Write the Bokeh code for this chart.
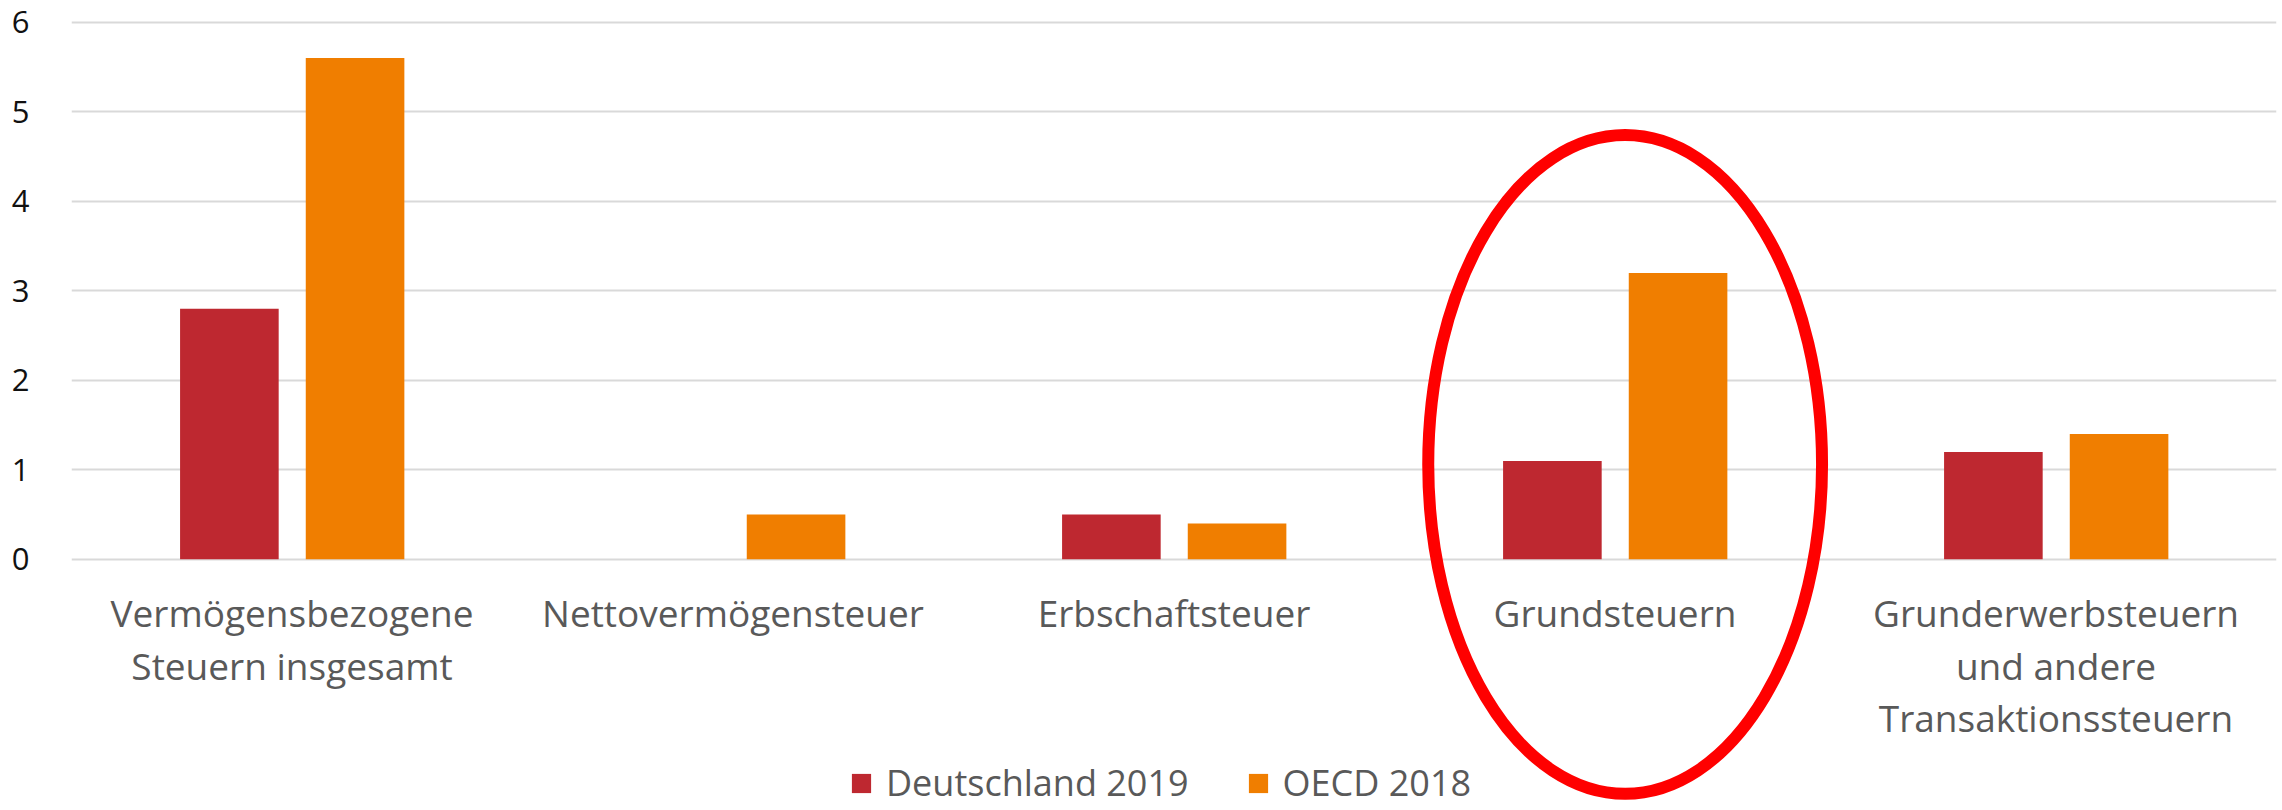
from bokeh.plotting import figure
from bokeh.models import FactorRange, Range1d, FixedTicker, ColumnDataSource
from bokeh.transform import dodge
from bokeh.core.properties import value
from bokeh.embed import file_html
from bokeh.resources import INLINE

# ---- data ----
categories = ["Vermögensbezogene Steuern insgesamt", "Nettovermögensteuer",
              "Erbschaftsteuer", "Grundsteuern",
              "Grunderwerbsteuern und andere Transaktionssteuern"]
cat_labels = ["Vermögensbezogene\nSteuern insgesamt", "Nettovermögensteuer",
              "Erbschaftsteuer", "Grundsteuern",
              "Grunderwerbsteuern\nund andere\nTransaktionssteuern"]
deutschland_2019 = [2.8, 0.0, 0.5, 1.1, 1.2]
oecd_2018 = [5.6, 0.5, 0.4, 3.2, 1.4]
y_ticks = [0, 1, 2, 3, 4, 5, 6]
series_names = ["Deutschland 2019", "OECD 2018"]
highlight_category = "Grundsteuern"

# ---- styles ----
RED = "#BE2830"
ORANGE = "#F07E00"
FONT = "Open Sans"

src = ColumnDataSource(dict(cat=categories, label=cat_labels,
                            de=deutschland_2019, oecd=oecd_2018,
                            zero=[0] * len(categories)))

p = figure(x_range=FactorRange(*categories, range_padding=0),
           y_range=Range1d(-2.806, 6.2436),
           width=2282, height=810, output_backend="svg", toolbar_location=None,
           x_axis_location=None, min_border_left=71, min_border_right=6,
           min_border_top=0, min_border_bottom=0, outline_line_color=None)

p.vbar(x=dodge("cat", -0.142, range=p.x_range), top="de", width=0.2236,
       source=src, fill_color=RED, line_color=None, legend_label=series_names[0])
p.vbar(x=dodge("cat", 0.143, range=p.x_range), top="oecd", width=0.2236,
       source=src, fill_color=ORANGE, line_color=None, legend_label=series_names[1])

# category labels below the zero line
p.text(x="cat", y="zero", text="label", source=src, y_offset=28,
       text_align="center", text_baseline="top", text_font=value(FONT),
       text_font_size="37px", text_color="#595959", text_line_height=1.03)

# highlight ellipse
esrc = ColumnDataSource(dict(cat=[highlight_category], y=[1.06]))
p.ellipse(x=dodge("cat", 0.023, range=p.x_range), y="y", width=0.893, height=7.36,
          source=esrc, fill_color=None, line_color="#FF0000", line_width=12)

# axes / grid
p.yaxis.ticker = FixedTicker(ticks=y_ticks)
p.yaxis.axis_line_color = None
p.yaxis.major_tick_line_color = None
p.yaxis.minor_tick_line_color = None
p.yaxis.major_label_standoff = 36
p.yaxis.major_label_text_font = FONT
p.yaxis.major_label_text_font_size = "31px"
p.yaxis.major_label_text_color = "#111111"
p.xgrid.visible = False
p.ygrid.ticker = FixedTicker(ticks=y_ticks)
p.ygrid.grid_line_color = "#D9D9D9"
p.ygrid.grid_line_width = 2

lg = p.legend[0]
lg.orientation = "horizontal"
lg.location = (778, 3)
lg.label_text_font = FONT
lg.label_text_font_size = "36px"
lg.label_text_color = "#595959"
lg.glyph_width = 24
lg.glyph_height = 24
lg.spacing = 57
lg.label_standoff = 13
lg.padding = 0
lg.margin = 0
lg.border_line_color = None
lg.background_fill_alpha = 0

open("out.html", "w").write(file_html(p, INLINE))
